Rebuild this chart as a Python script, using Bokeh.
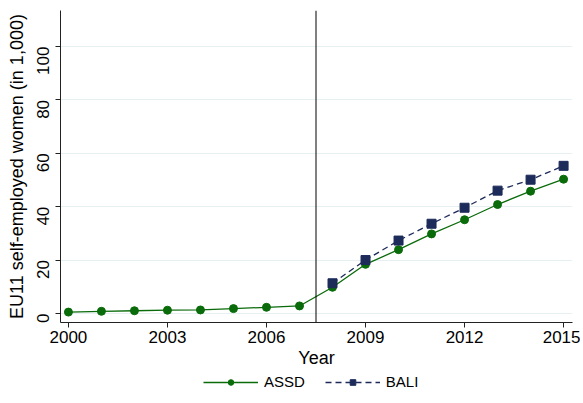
import math
from bokeh.plotting import figure
from bokeh.layouts import column
from bokeh.models import Span, Legend, LegendItem, Range1d, FixedTicker
from bokeh.embed import file_html
from bokeh.resources import INLINE

years_assd = [2000, 2001, 2002, 2003, 2004, 2005, 2006, 2007, 2008, 2009, 2010, 2011, 2012, 2013, 2014, 2015]
assd = [0.5, 0.8, 1.0, 1.2, 1.3, 1.8, 2.3, 2.8, 9.8, 18.4, 23.9, 29.8, 35.1, 40.8, 45.8, 50.3]
years_bali = [2008, 2009, 2010, 2011, 2012, 2013, 2014, 2015]
bali = [11.3, 20.0, 27.3, 33.6, 39.6, 46.0, 50.1, 55.3]
x_ticks = [2000, 2003, 2006, 2009, 2012, 2015]
y_ticks = [0, 20, 40, 60, 80, 100]
series_names = ["ASSD", "BALI"]
policy_year = 2007.5

GREEN = "#0a6b0a"
NAVY = "#1c2b59"
FONT = "Liberation Sans"

p = figure(frame_width=512, frame_height=312, output_backend="svg", toolbar_location=None,
           x_range=Range1d(1999.76, 2015.27), y_range=Range1d(-3.4, 113.5),
           min_border_left=60, min_border_right=8, min_border_top=10, min_border_bottom=40)
p.outline_line_color = None
p.background_fill_color = "white"
p.border_fill_color = "white"

p.xgrid.grid_line_color = None
p.ygrid.grid_line_color = "#e6eff1"
p.ygrid.grid_line_width = 1

p.xaxis.ticker = FixedTicker(ticks=x_ticks)
p.yaxis.ticker = FixedTicker(ticks=y_ticks)
for ax in (p.xaxis, p.yaxis):
    ax.axis_line_color = "#222222"
    ax.major_tick_line_color = "#222222"
    ax.major_tick_out = 5
    ax.major_tick_in = 0
    ax.minor_tick_line_color = None
    ax.major_label_text_font = FONT
    ax.major_label_text_font_size = "17px"
    ax.major_label_text_color = "black"
    ax.axis_label_text_font = FONT
    ax.axis_label_text_font_size = "18px"
    ax.axis_label_text_font_style = "normal"
    ax.axis_label_text_color = "black"
p.xaxis.axis_label = "Year"
p.xaxis.axis_label_standoff = 2
p.xaxis.major_label_standoff = 3
p.yaxis.axis_label = "EU11 self-employed women (in 1,000)"
p.yaxis.major_label_orientation = math.pi / 2
p.yaxis.axis_label_standoff = 2
p.yaxis.major_label_standoff = 12

p.add_layout(Span(location=policy_year, dimension="height", line_color="black", line_width=1))

p.line(years_assd, assd, line_color=GREEN, line_width=1.3)
p.scatter(years_assd, assd, marker="circle", size=8, fill_color=GREEN, line_color=GREEN)
p.line(years_bali, bali, line_color=NAVY, line_width=1.3, line_dash="6 4")
p.scatter(years_bali, bali, marker="square", size=9, fill_color=NAVY, line_color=NAVY)

# legend strip below the chart (series drawn out of its view; only the legend shows)
lg = figure(frame_width=512, height=28, output_backend="svg", toolbar_location=None,
            x_range=Range1d(0, 1), y_range=Range1d(0, 1),
            min_border_left=60, min_border_right=8, min_border_top=0, min_border_bottom=0)
lg.axis.visible = False
lg.grid.visible = False
lg.outline_line_color = None
k1 = lg.line(years_assd, assd, line_color=GREEN, line_width=1.3)
k2 = lg.scatter(years_assd, assd, marker="circle", size=8, fill_color=GREEN, line_color=GREEN)
k3 = lg.line(years_bali, bali, line_color=NAVY, line_width=1.3, line_dash="6 4")
k4 = lg.scatter(years_bali, bali, marker="square", size=9, fill_color=NAVY, line_color=NAVY)
legend = Legend(items=[LegendItem(label=series_names[0], renderers=[k1, k2]),
                       LegendItem(label=series_names[1], renderers=[k3, k4])],
                orientation="horizontal", location=(143, 8),
                glyph_width=55, glyph_height=14, label_standoff=6, spacing=20,
                label_text_font=FONT, label_text_font_size="15px", label_text_color="black",
                border_line_color=None, background_fill_alpha=0,
                padding=0, margin=0)
lg.add_layout(legend)

open("out.html", "w").write(file_html(column(p, lg, spacing=0), INLINE))
